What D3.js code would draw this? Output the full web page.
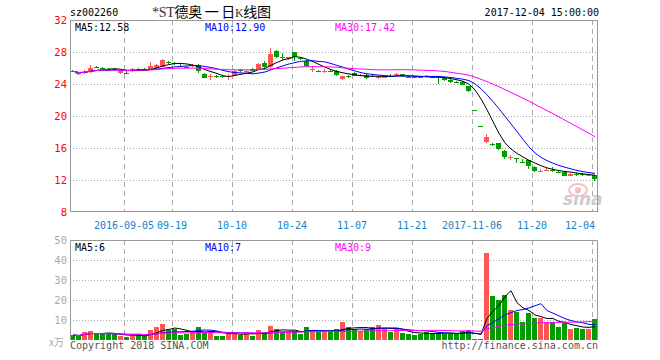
<!DOCTYPE html>
<html><head><meta charset="utf-8">
<script src="https://cdn.jsdelivr.net/npm/d3@7/dist/d3.min.js"></script>
<style>body{margin:0;background:#fff}svg{display:block}</style>
</head><body><svg id="c" width="660" height="360"></svg>
<script>
const dates = [
"2016-08-23","2016-08-24","2016-08-25","2016-08-26","2016-08-29","2016-08-30","2016-08-31","2016-09-01","2016-09-02",
"2016-09-05","2016-09-06","2016-09-07","2016-09-08","2016-09-09","2016-09-12","2016-09-13","2016-09-14",
"2016-09-19","2016-09-20","2016-09-21","2016-09-22","2016-09-23","2016-09-26","2016-09-27","2016-09-28","2016-09-29","2016-09-30",
"2016-10-10","2016-10-11","2016-10-12","2016-10-13","2016-10-14","2016-10-17","2016-10-18","2016-10-19","2016-10-20","2016-10-21",
"2016-10-24","2016-10-25","2016-10-26","2016-10-27","2016-10-28","2016-10-31","2016-11-01","2016-11-02","2016-11-03","2016-11-04",
"2016-11-07","2016-11-08","2016-11-09","2016-11-10","2016-11-11","2016-11-14","2016-11-15","2016-11-16","2016-11-17","2016-11-18",
"2016-11-21","2016-11-22","2016-11-23","2016-11-24","2016-11-25","2016-11-28","2016-11-29","2016-11-30","2016-12-01","2016-12-02",
"2017-11-06","2017-11-07","2017-11-08","2017-11-09","2017-11-10","2017-11-13","2017-11-14","2017-11-15","2017-11-16","2017-11-17",
"2017-11-20","2017-11-21","2017-11-22","2017-11-23","2017-11-24","2017-11-27","2017-11-28","2017-11-29","2017-11-30","2017-12-01",
"2017-12-04"];
const open = [25.62,25.32,25.5,25.5,26.12,26.02,25.9,25.82,25.35,25.42,
25.55,25.92,25.82,25.8,26.0,26.2,26.72,26.6,26.3,26.12,
26.25,26.35,25.3,24.88,24.95,24.98,24.95,25.05,25.7,25.6,
25.9,25.75,26.65,26.1,28.1,27.35,27.06,27.95,27.25,26.9,
25.78,25.65,25.58,25.68,25.6,24.65,24.98,25.4,25.1,25.15,
25.05,24.78,24.8,25.02,25.18,25.2,24.88,24.9,24.88,25.0,
24.9,24.92,24.75,24.5,24.28,24.3,23.7,20.78,18.7,16.83,
16.45,16.58,15.58,14.78,14.72,14.22,14.45,13.66,13.1,13.25,
13.3,13.05,13.04,12.54,12.74,12.74,12.58,12.58];
const high = [25.8,25.5,25.75,26.4,26.3,26.15,26.0,25.95,25.75,25.6,
25.95,26.05,25.95,26.8,26.5,27.1,26.9,26.75,26.45,26.25,
26.45,26.5,25.4,25.3,25.1,25.15,25.2,25.7,25.85,25.8,
26.0,26.6,26.85,28.55,28.25,27.9,27.4,28.05,27.4,27.0,
26.1,25.8,25.9,25.85,25.7,25.05,25.15,25.5,25.3,25.3,
25.25,25.0,25.15,25.2,25.35,25.3,25.0,25.05,25.0,25.15,
25.05,25.0,24.85,24.6,24.4,24.4,23.8,20.78,18.7,17.7,
16.6,16.65,15.75,15.1,14.72,14.65,14.5,13.8,13.4,13.55,
13.6,13.2,13.1,12.85,12.9,12.85,12.75,12.65];
const low = [25.45,25.15,25.2,25.4,25.95,25.85,25.6,25.65,25.25,25.25,
25.5,25.75,25.65,25.7,25.9,26.1,26.55,26.4,26.1,25.95,
26.1,25.4,24.7,24.5,24.8,24.8,24.55,25.0,25.5,25.5,
25.6,25.7,25.95,26.0,27.3,27.0,27.0,26.9,27.05,26.1,
25.5,25.45,25.35,25.5,25.05,24.5,24.8,25.0,24.95,24.65,
24.9,24.6,24.75,24.85,25.0,24.95,24.7,24.7,24.7,24.85,
24.7,24.0,24.35,24.15,24.1,23.85,23.0,20.78,18.7,16.6,
16.2,15.8,14.65,14.5,14.1,14.15,13.4,13.05,12.95,13.1,
12.95,12.9,12.55,12.5,12.55,12.55,12.45,11.85];
const close = [25.58,25.28,25.55,26.0,26.08,25.98,25.7,25.78,25.65,25.38,
25.85,25.88,25.78,26.2,26.4,27.05,26.68,26.55,26.15,26.08,
26.32,25.55,24.85,24.95,24.9,24.93,25.0,25.6,25.65,25.65,
25.65,26.55,26.15,27.7,27.4,27.3,27.36,27.35,27.2,26.25,
25.85,25.6,25.65,25.63,25.1,25.0,24.93,25.05,25.15,24.75,
25.0,24.83,25.05,24.98,25.23,25.0,24.85,24.85,24.83,24.95,
24.85,24.85,24.45,24.25,24.23,23.9,23.1,20.78,18.7,17.42,
16.4,15.88,14.82,14.84,14.68,14.18,13.74,13.2,13.15,13.3,
13.25,13.0,12.6,12.79,12.7,12.7,12.62,12.1];
const volume = [2.5,2,4,4.5,3,3,3,3,2,1.5,
2.5,2.5,2,5,6.5,8,5,5.5,2.5,3,
4,6.5,4,4,2,2,4,4,2.3,3,
2,5,4,7,5.5,4,4,4.3,3,6.5,
5,4,4,4,5.5,9,6.5,5.5,4.5,5.5,
6.5,7.5,5.5,4,5.5,3.5,3,2.5,3,4,
3.5,3.5,3,3,3.5,4.5,5,0.5,0.5,43.7,
22,20,22.5,15,13.8,9,13.7,11,11,9,
9,6.5,8.7,5.5,6,5.7,5.7,10.5];
const tickDates = ["2016-09-05","2016-09-19","2016-10-10","2016-10-24","2016-11-07","2016-11-21","2017-11-06","2017-11-20","2017-12-04"];
const tickLabels = ["2016-09-05","09-19","10-10","10-24","11-07","11-21","2017-11-06","11-20","12-04"];
const priceTicks = [8,12,16,20,24,28,32];
const volTicks = [10,20,30,40,50];
const maPeriods = [5,10,30];
const maColors = ["#000000","#0000ff","#ff00ff"];
const priceMaLabels = ["MA5:12.58","MA10:12.90","MA30:17.42"];
const volMaLabels = ["MA5:6","MA10:7","MA30:9"];

const RED = "#ff5555", GREEN = "#009c00";
const MONO = "'DejaVu Sans Mono', 'Liberation Mono', monospace";
const svg = d3.select("#c");
const N = dates.length;
const L = 70, R = 597;
const x = d3.scaleBand().domain(dates).range([L, L + 6 * N]).padding(0);
const y = d3.scaleLinear().domain([8, 32]).range([212, 20]);
const yv = d3.scaleLinear().domain([0, 50]).range([340, 240]);

function ma(arr, n) {
  return arr.map((_, i) => d3.mean(arr.slice(Math.max(0, i - n + 1), i + 1)));
}
const colorOf = i => close[i] > open[i] ? RED : close[i] < open[i] ? GREEN : (i > 0 && close[i] < close[i - 1] ? GREEN : RED);

// header
svg.append("text").attr("x", 70).attr("y", 16).attr("font-family", MONO).attr("font-size", 10).attr("fill", "#000").text("sz002260");
const title = svg.append("text").attr("x", 152).attr("y", 17).attr("font-size", 14).attr("fill", "#000")
  .attr("textLength", 119).attr("lengthAdjust", "spacing");
title.append("tspan").attr("font-family", "'Liberation Serif', serif").attr("fill", "#333").text("*ST");
title.append("tspan").attr("font-family", "'Noto Sans CJK SC', sans-serif").text("德奥 一 日");
title.append("tspan").attr("font-family", "'Liberation Serif', serif").attr("font-size", 12).attr("fill", "#333").text("K");
title.append("tspan").attr("font-family", "'Noto Sans CJK SC', sans-serif").text("线图");
svg.append("text").attr("x", 599).attr("y", 16).attr("text-anchor", "end").attr("font-family", MONO).attr("font-size", 10).attr("fill", "#000").text("2017-12-04 15:00:00");

// main gridlines
const gMain = svg.append("g");
gMain.selectAll("line.h").data(priceTicks.filter(t => t > 8 && t < 32)).join("line")
  .attr("x1", L).attr("x2", R).attr("y1", d => Math.round(y(d)) + 0.5).attr("y2", d => Math.round(y(d)) + 0.5)
  .attr("stroke", "#aaa").attr("stroke-dasharray", "1,2");
gMain.selectAll("line.v").data(tickDates).join("line")
  .attr("x1", d => x(d) + 0.5).attr("x2", d => x(d) + 0.5).attr("y1", 20).attr("y2", 212)
  .attr("stroke", "#aaa").attr("stroke-dasharray", "5,4");
// volume gridlines
const gVol = svg.append("g");
gVol.selectAll("line.h").data(volTicks.filter(t => t < 50)).join("line")
  .attr("x1", L).attr("x2", R).attr("y1", d => Math.round(yv(d)) + 0.5).attr("y2", d => Math.round(yv(d)) + 0.5)
  .attr("stroke", "#aaa").attr("stroke-dasharray", "1,2");
gVol.selectAll("line.v").data(tickDates).join("line")
  .attr("x1", d => x(d) + 0.5).attr("x2", d => x(d) + 0.5).attr("y1", 240).attr("y2", 340)
  .attr("stroke", "#aaa").attr("stroke-dasharray", "5,4");

// watermark
const wm = svg.append("g");
wm.append("ellipse").attr("cx", 578).attr("cy", 190).attr("rx", 9).attr("ry", 6).attr("fill", "none").attr("stroke", "#f6c0c0").attr("stroke-width", 2);
wm.append("circle").attr("cx", 578).attr("cy", 190).attr("r", 3).attr("fill", "#f6c0c0");
wm.append("text").attr("x", 563).attr("y", 205).attr("font-family", "'DejaVu Sans'").attr("font-style", "italic").attr("font-weight", "bold").attr("font-size", 17).attr("fill", "#cccccc").text("sina");

// candles
const idx = d3.range(N);
const cg = svg.append("g").attr("shape-rendering", "crispEdges");
cg.selectAll("line.w").data(idx).join("line")
  .attr("x1", i => x(dates[i]) + 2.5).attr("x2", i => x(dates[i]) + 2.5)
  .attr("y1", i => y(high[i])).attr("y2", i => y(low[i]))
  .attr("stroke", i => colorOf(i));
cg.selectAll("rect").data(idx).join("rect")
  .attr("x", i => x(dates[i])).attr("width", x.bandwidth() - 1)
  .attr("y", i => Math.round(y(Math.max(open[i], close[i]))))
  .attr("height", i => Math.max(1, Math.round(y(Math.min(open[i], close[i])) - y(Math.max(open[i], close[i])))))
  .attr("fill", i => colorOf(i));

// price MAs
maPeriods.forEach((p, k) => {
  const m = ma(close, p);
  svg.append("path").datum(idx).attr("fill", "none").attr("stroke", maColors[k]).attr("stroke-width", 1)
    .attr("d", d3.line().x(i => x(dates[i]) + 3).y(i => y(m[i])));
});

// volume bars
svg.append("g").attr("shape-rendering", "crispEdges").selectAll("rect").data(idx).join("rect")
  .attr("x", i => x(dates[i])).attr("width", x.bandwidth() - 1)
  .attr("y", i => Math.round(yv(volume[i]))).attr("height", i => 340 - Math.round(yv(volume[i])))
  .attr("fill", i => colorOf(i));
maPeriods.forEach((p, k) => {
  const m = ma(volume, p);
  svg.append("path").datum(idx).attr("fill", "none").attr("stroke", maColors[k]).attr("stroke-width", 1)
    .attr("d", d3.line().x(i => x(dates[i]) + 3).y(i => yv(m[i])));
});

// frames
svg.append("rect").attr("x", L + 0.5).attr("y", 20.5).attr("width", R - L).attr("height", 191)
  .attr("fill", "none").attr("stroke", "#999");
svg.append("path").attr("d", `M${L + 0.5},340V240.5H${R + 0.5}V340`).attr("fill", "none").attr("stroke", "#999");

// y labels
svg.selectAll("text.py").data(priceTicks).join("text")
  .attr("x", 67).attr("y", d => y(d) + 4).attr("text-anchor", "end")
  .attr("font-family", MONO).attr("font-size", 10.5).attr("fill", "#ff0000").text(d => d);
svg.selectAll("text.vy").data(volTicks).join("text")
  .attr("x", 67).attr("y", d => yv(d) + 4).attr("text-anchor", "end")
  .attr("font-family", MONO).attr("font-size", 10.5).attr("fill", "#aaaaaa").text(d => d);
svg.append("text").attr("x", 49).attr("y", 346).attr("font-family", "'Noto Sans CJK SC', sans-serif").attr("font-size", 10).attr("fill", "#aaaaaa").text("x万");

// x labels
svg.selectAll("text.xl").data(tickDates).join("text")
  .attr("x", (d, k) => {
    const cx = x(d), w = tickLabels[k].length * 6;
    return Math.min(cx, 595 - w / 2);
  })
  .attr("y", 228.5).attr("text-anchor", "middle")
  .attr("font-family", MONO).attr("font-size", 10).attr("fill", "#1383d0").text((d, k) => tickLabels[k]);

// MA labels
const maX = [75, 205, 335];
priceMaLabels.forEach((t, k) => svg.append("text").attr("x", maX[k]).attr("y", 30.5).attr("font-family", MONO).attr("font-size", 10).attr("fill", maColors[k]).text(t));
volMaLabels.forEach((t, k) => svg.append("text").attr("x", maX[k]).attr("y", 250.5).attr("font-family", MONO).attr("font-size", 10).attr("fill", maColors[k]).text(t));

// footer
svg.append("text").attr("x", 70).attr("y", 349).attr("font-family", MONO).attr("font-size", 10).attr("fill", "#555").text("Copyright 2018 SINA.COM");
svg.append("text").attr("x", 598).attr("y", 349).attr("text-anchor", "end").attr("font-family", MONO).attr("font-size", 10).attr("fill", "#555").text("http://finance.sina.com.cn");
</script></body></html>
